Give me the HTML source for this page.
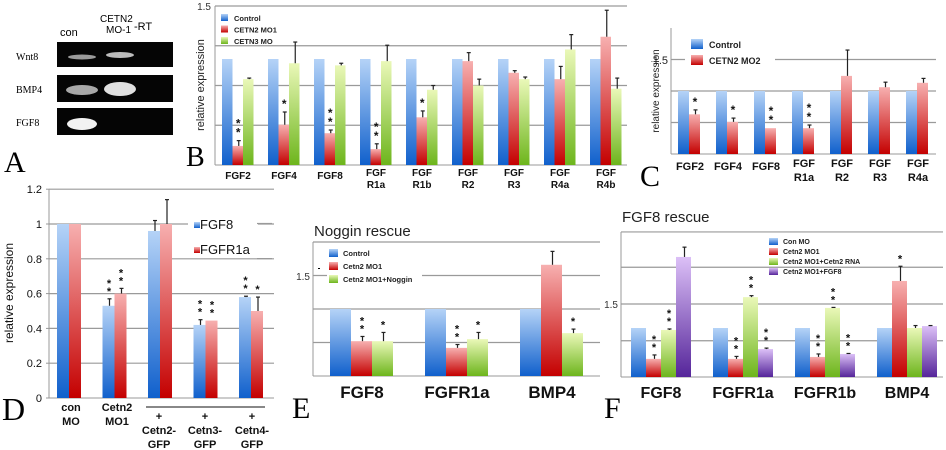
<!DOCTYPE html>
<html><head><meta charset="utf-8"><style>
html,body{margin:0;padding:0;background:#fff;}
svg{display:block;font-family:"Liberation Sans",sans-serif;}
.ser{font-family:"Liberation Serif",serif;}
</style></head><body>
<svg id="fig" width="946" height="450" viewBox="0 0 946 450">
<defs>
<linearGradient id="gBlue" x1="0" y1="0" x2="0" y2="1"><stop offset="0" stop-color="#b5d3f7"/><stop offset="1" stop-color="#1060cc"/></linearGradient>
<linearGradient id="gRed" x1="0" y1="0" x2="0" y2="1"><stop offset="0" stop-color="#f7b0b0"/><stop offset="1" stop-color="#c40000"/></linearGradient>
<linearGradient id="gGreen" x1="0" y1="0" x2="0" y2="1"><stop offset="0" stop-color="#eaf8b8"/><stop offset="1" stop-color="#6db51c"/></linearGradient>
<linearGradient id="gPurple" x1="0" y1="0" x2="0" y2="1"><stop offset="0" stop-color="#dcc0f7"/><stop offset="1" stop-color="#55259a"/></linearGradient>
</defs>
<!-- Panel A gel -->
<g>
<text x="60" y="36" font-size="11">con</text>
<text x="100" y="22" font-size="10">CETN2</text>
<text x="106" y="33" font-size="10">MO-1</text>
<text x="134" y="30" font-size="11">-RT</text>
<rect x="57" y="42" width="116" height="25" fill="#050505"/>
<rect x="57" y="75" width="116" height="27" fill="#050505"/>
<rect x="57" y="108" width="116" height="27" fill="#050505"/>
<ellipse cx="82" cy="57" rx="14" ry="2.5" fill="#9a9a9a"/>
<ellipse cx="120" cy="55" rx="14" ry="3" fill="#bcbcbc"/>
<ellipse cx="82" cy="90" rx="16" ry="5" fill="#a8a8a8"/>
<ellipse cx="120" cy="89" rx="16" ry="7" fill="#e0e0e0"/>
<ellipse cx="82" cy="124" rx="15" ry="6" fill="#f2f2f2"/>
<text x="16" y="60" font-size="10" class="ser">Wnt8</text>
<text x="16" y="93" font-size="10" class="ser">BMP4</text>
<text x="16" y="126" font-size="10" class="ser">FGF8</text>
</g>
<text x="4" y="172" font-size="30" class="ser">A</text>
<text x="186" y="166" font-size="28" class="ser">B</text>
<text x="640" y="186" font-size="30" class="ser">C</text>
<text x="2" y="420" font-size="32" class="ser">D</text>
<text x="292" y="418" font-size="30" class="ser">E</text>
<text x="604" y="418" font-size="30" class="ser">F</text>
<text x="314" y="236" font-size="15" fill="#222">Noggin rescue</text>
<text x="622" y="222" font-size="15" fill="#222">FGF8 rescue</text>
</svg>
<script>
// Panel B data
const bCats = ["FGF2","FGF4","FGF8","FGF|R1a","FGF|R1b","FGF|R2","FGF|R3","FGF|R4a","FGF|R4b"];
const bControl = [1,1,1,1,1,1,1,1,1];
const bMO1 = [0.18,0.38,0.30,0.15,0.45,0.98,0.87,0.81,1.21];
const bMO1Err = [0.05,0.12,0.03,0.05,0.06,0.08,0.02,0.12,0.25];
const bMO3 = [0.81,0.96,0.94,0.98,0.71,0.75,0.81,1.09,0.72];
const bMO3Err = [0.01,0.2,0.02,0.15,0.04,0.06,0.02,0.14,0.1];
const bStarsMO1 = [2,1,2,2,1,0,0,0,0];
// Panel C data
const cCats = ["FGF2","FGF4","FGF8","FGF|R1a","FGF|R2","FGF|R3","FGF|R4a"];
const cControl = [1,1,1,1,1,1,1];
const cMO2 = [0.63,0.51,0.41,0.41,1.24,1.06,1.13];
const cMO2Err = [0.07,0.06,0.0,0.05,0.41,0.08,0.07];
const cStars = [1,1,2,2,0,0,0];
// Panel D data
const dFGF8 = [1,0.53,0.96,0.42,0.58];
const dFGF8Err = [0,0.04,0.06,0.03,0.005];
const dFGFR1a = [1,0.6,1.0,0.445,0.5];
const dFGFR1aErr = [0,0.03,0.14,0,0.08];
const dStarsFGF8 = [0,2,0,2,2];
const dStarsFGFR1a = [0,2,0,2,1];
const dTicks = [0,0.2,0.4,0.6,0.8,1,1.2];
// Panel E data
const eCats = ["FGF8","FGFR1a","BMP4"];
const eControl = [1,1,1];
const eMO1 = [0.52,0.42,1.66];
const eMO1Err = [0.07,0.05,0.2];
const eNoggin = [0.52,0.55,0.64];
const eNogginErr = [0.13,0.1,0.06];
const eStarsMO1 = [2,2,0];
const eStarsNoggin = [1,1,1];
// Panel F data
const fCats = ["FGF8","FGFR1a","FGFR1b","BMP4"];
const fControl = [1,1,1,1];
const fMO1 = [0.37,0.37,0.41,1.96];
const fMO1Err = [0.08,0.05,0.06,0.3];
const fRNA = [0.96,1.63,1.41,1.0];
const fRNAErr = [0.02,0.03,0.01,0.05];
const fFGF8 = [2.45,0.57,0.47,1.04];
const fFGF8Err = [0.2,0.02,0.01,0.01];
const fStarsMO1 = [2,2,2,1];
const fStarsRNA = [2,2,2,0];
const fStarsFGF8 = [0,2,2,0];

const svg = document.getElementById('fig');
const NS = "http://www.w3.org/2000/svg";
function mk(tag, attrs, parent){
  const e = document.createElementNS(NS, tag);
  for (const k in attrs) e.setAttribute(k, attrs[k]);
  (parent||svg).appendChild(e);
  return e;
}
function txt(x,y,s,size,opts,parent){
  const t = mk('text',Object.assign({x:x,y:y,'font-size':size},opts||{}),parent);
  t.textContent = s;
  return t;
}
// generic chart
function chart(cfg){
  const g = mk('g',{});
  
  
  const yS = v => cfg.yb - v*cfg.ppu;
  cfg.grid.forEach(v=>{
    const l = mk('line',{x1:cfg.xa,x2:cfg.xr,y1:yS(v),y2:yS(v),stroke:'#9a9a9a','stroke-width':1.2},g);
    
    
  });
  mk('line',{x1:cfg.xa,x2:cfg.xa,y1:cfg.yb,y2:yS(cfg.top),stroke:'#999','stroke-width':1},g);
  mk('line',{x1:cfg.xa,x2:cfg.xr,y1:cfg.yb,y2:cfg.yb,stroke:'#999','stroke-width':1},g);
  cfg.series.forEach((s,si)=>{
    s.vals.forEach((v,i)=>{
      const x = cfg.gx + i*cfg.step + si*cfg.bw;
      const r = mk('rect',{x:x,y:yS(v),width:cfg.bw,height:v*cfg.ppu,fill:s.fill},g);
      
      
      const e = s.err ? s.err[i] : 0;
      const cx = x + cfg.bw/2 + 1;
      if (e>0.004){
        mk('line',{x1:cx,x2:cx,y1:yS(v),y2:yS(v+e),stroke:'#222','stroke-width':1.2},g);
        mk('line',{x1:cx-2,x2:cx+2,y1:yS(v+e),y2:yS(v+e),stroke:'#222','stroke-width':1.2},g);
      }
      const n = s.stars ? s.stars[i] : 0;
      for (let k=0;k<n;k++){
        const st = txt(cx-0.5, yS(v+e)-4-k*cfg.starGap, '*', cfg.starSize, {'text-anchor':'middle','font-weight':'bold',fill:'#111'}, g);
        
        
      }
    });
  });
  return {g:g,yS:yS};
}

// Panel B
const B = chart({name:'chart-b',xa:215,xr:627,yb:165,ppu:106,top:1.5,grid:[0.375,0.75,1.125,1.5],gx:222,step:46,bw:10.5,starSize:12,starGap:9,
  series:[{key:'control',vals:bControl,fill:'url(#gBlue)'},{key:'mo1',vals:bMO1,err:bMO1Err,stars:bStarsMO1,fill:'url(#gRed)'},{key:'mo3',vals:bMO3,err:bMO3Err,fill:'url(#gGreen)'}]});
txt(211,10,'1.5',10,{'text-anchor':'end',fill:'#333'},B.g);
txt(204,85,'relative expression',11,{'text-anchor':'middle',transform:'rotate(-90 204 85)',fill:'#222'},B.g);
bCats.forEach((c,i)=>{
  const p=c.split('|'); const cx=222+i*46+16;
  p.forEach((s,j)=>{const t=txt(cx,(p.length>1?176:179)+j*12,s,10,{'text-anchor':'middle','font-weight':'bold',fill:'#111'},B.g);
    });
});
[['Control','url(#gBlue)'],['CETN2 MO1','url(#gRed)'],['CETN3 MO','url(#gGreen)']].forEach((l,i)=>{
  const lg=mk('g',{},B.g);
  
  
  mk('rect',{x:221,y:14+i*11.5,width:7,height:7,fill:l[1]},lg);
  txt(234,21+i*11.5,l[0],7.5,{'font-weight':'bold',fill:'#222'},lg);
});

// Panel C
const C = chart({name:'chart-c',xa:671,xr:936,yb:154,ppu:63,top:2,grid:[0.5,1,1.5],gx:678,step:38,bw:11,starSize:12,starGap:9,
  series:[{key:'control',vals:cControl,fill:'url(#gBlue)'},{key:'mo2',vals:cMO2,err:cMO2Err,stars:cStars,fill:'url(#gRed)'}]});
mk('line',{x1:671,x2:671,y1:28,y2:154,stroke:'#999'},C.g);
mk('rect',{x:685,y:38,width:90,height:30,fill:'#fff'},C.g);
txt(668,64,'1.5',11,{'text-anchor':'end',fill:'#222'},C.g);
txt(659,91,'relative expression',10,{'text-anchor':'middle',transform:'rotate(-90 659 91)',fill:'#222'},C.g);
cCats.forEach((c,i)=>{
  const p=c.split('|'); const cx=678+i*38+12;
  p.forEach((s,j)=>{const t=txt(cx,(p.length>1?167:170)+j*14,s,11,{'text-anchor':'middle','font-weight':'bold',fill:'#111'},C.g);
    });
});
[['Control','url(#gBlue)'],['CETN2 MO2','url(#gRed)']].forEach((l,i)=>{
  const lg=mk('g',{},C.g);
  
  
  mk('rect',{x:691,y:39+i*16,width:12,height:10,fill:l[1]},lg);
  txt(709,48+i*16,l[0],9,{'font-weight':'bold',fill:'#222'},lg);
});

// Panel D
const D = chart({name:'chart-d',xa:49,xr:274,yb:398,ppu:174,top:1.2,grid:[0.2,0.4,0.6,0.8,1,1.2],gx:57,step:45.5,bw:12,starSize:11,starGap:8,
  series:[{key:'fgf8',vals:dFGF8,err:dFGF8Err,stars:dStarsFGF8,fill:'url(#gBlue)'},{key:'fgfr1a',vals:dFGFR1a,err:dFGFR1aErr,stars:dStarsFGFR1a,fill:'url(#gRed)'}]});
mk('rect',{x:188,y:218,width:70,height:40,fill:'#fff'},D.g);
mk('line',{x1:257,x2:272,y1:223.5,y2:223.5,stroke:'#9a9a9a','stroke-width':1.2},D.g);
mk('line',{x1:257,x2:272,y1:258.6,y2:258.6,stroke:'#9a9a9a','stroke-width':1.2},D.g);
dTicks.forEach(v=>{
  const t=txt(42,D.yS(v)+4,String(v),11,{'text-anchor':'end',fill:'#111'},D.g);
  
  mk('line',{x1:46,x2:49,y1:D.yS(v),y2:D.yS(v),stroke:'#999'},D.g);
});
txt(13,293,'relative expression',12,{'text-anchor':'middle',transform:'rotate(-90 13 293)',fill:'#111'},D.g);
[['FGF8','url(#gBlue)',227],['FGFR1a','url(#gRed)',252]].forEach(l=>{
  const lg=mk('g',{},D.g);
  
  
  mk('rect',{x:194,y:l[2]-5,width:6,height:6,fill:l[1]},lg);
  txt(200,l[2]+2,l[0],13,{fill:'#111'},lg);
});
const dl=[['con','MO'],['Cetn2','MO1']];
dl.forEach((p,i)=>{const cx=[71,117][i];p.forEach((s,j)=>{const t=txt(cx,411+j*14,s,11,{'text-anchor':'middle','font-weight':'bold',fill:'#111'},D.g);});});
mk('line',{x1:146,x2:265,y1:407,y2:407,stroke:'#111'},D.g);
[['Cetn2-',159],['Cetn3-',205],['Cetn4-',252]].forEach(p=>{
  txt(p[1],420,'+',11,{'text-anchor':'middle','font-weight':'bold',fill:'#111'},D.g);
  const t=txt(p[1],434,p[0],11,{'text-anchor':'middle','font-weight':'bold',fill:'#111'},D.g);
  
  txt(p[1],448,'GFP',11,{'text-anchor':'middle','font-weight':'bold',fill:'#111'},D.g);
});

// Panel E
const E = chart({name:'chart-e',xa:313,xr:600,yb:376,ppu:67,top:2,grid:[0.5,1,1.5,2],gx:330,step:95,bw:21,starSize:11,starGap:8,
  series:[{key:'control',vals:eControl,fill:'url(#gBlue)'},{key:'mo1',vals:eMO1,err:eMO1Err,stars:eStarsMO1,fill:'url(#gRed)'},{key:'noggin',vals:eNoggin,err:eNogginErr,stars:eStarsNoggin,fill:'url(#gGreen)'}]});
mk('rect',{x:318,y:268,width:2,height:1},E.g);
txt(310,280,'1.5',10,{'text-anchor':'end',fill:'#333'},E.g);
mk('rect',{x:327,y:246,width:95,height:40,fill:'#fff'},E.g);
eCats.forEach((c,i)=>{const t=txt(330+i*95+32,398,c,17,{'text-anchor':'middle','font-weight':'bold',fill:'#111'},E.g);});
[['Control','url(#gBlue)'],['Cetn2 MO1','url(#gRed)'],['Cetn2 MO1+Noggin','url(#gGreen)']].forEach((l,i)=>{
  const lg=mk('g',{},E.g);
  
  
  mk('rect',{x:329,y:249+i*13,width:9,height:8,fill:l[1]},lg);
  txt(343,256+i*13,l[0],7.5,{'font-weight':'bold',fill:'#222'},lg);
});

// Panel F
const F = chart({name:'chart-f',xa:621,xr:943,yb:377,ppu:49,top:2.96,grid:[0.74,1.49,2.24,2.96],gx:631,step:82,bw:15,starSize:11,starGap:8,
  series:[{key:'conmo',vals:fControl,fill:'url(#gBlue)'},{key:'mo1',vals:fMO1,err:fMO1Err,stars:fStarsMO1,fill:'url(#gRed)'},{key:'rna',vals:fRNA,err:fRNAErr,stars:fStarsRNA,fill:'url(#gGreen)'},{key:'fgf8',vals:fFGF8,err:fFGF8Err,stars:fStarsFGF8,fill:'url(#gPurple)'}]});
txt(618,308,'1.5',10,{'text-anchor':'end',fill:'#333'},F.g);
fCats.forEach((c,i)=>{const t=txt(631+i*82+30,398,c,16,{'text-anchor':'middle','font-weight':'bold',fill:'#111'},F.g);});
[['Con MO','url(#gBlue)'],['Cetn2 MO1','url(#gRed)'],['Cetn2 MO1+Cetn2 RNA','url(#gGreen)'],['Cetn2 MO1+FGF8','url(#gPurple)']].forEach((l,i)=>{
  const lg=mk('g',{},F.g);
  
  
  mk('rect',{x:769,y:238+i*10,width:9,height:7,fill:l[1]},lg);
  txt(783,244+i*10,l[0],7,{'font-weight':'bold',fill:'#222'},lg);
});
</script>
</body></html>
